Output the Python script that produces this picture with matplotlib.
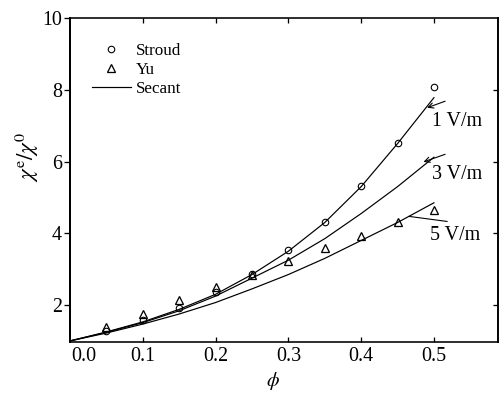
import numpy as np
import matplotlib
matplotlib.use('Agg')
import matplotlib.pyplot as plt
from matplotlib.transforms import ScaledTranslation

plt.rcParams['font.family'] = 'Liberation Serif'
plt.rcParams['mathtext.fontset'] = 'stix'

# secant curves (one per field strength)
phi_curve = [0.0, 0.05, 0.1, 0.15, 0.2, 0.25, 0.3, 0.35, 0.4, 0.45, 0.5]
secant_1 = [1.0, 1.25, 1.53, 1.88, 2.3, 2.85, 3.5, 4.3, 5.3, 6.5, 7.78]
secant_3 = [1.0, 1.24, 1.51, 1.84, 2.25, 2.75, 3.25, 3.85, 4.55, 5.3, 6.12]
secant_5 = [1.0, 1.22, 1.47, 1.75, 2.07, 2.45, 2.85, 3.3, 3.8, 4.3, 4.85]

# measured points
phi_pts = [0.05, 0.1, 0.15, 0.2, 0.25, 0.3, 0.35, 0.4, 0.45, 0.5]
stroud = [1.28, 1.58, 1.92, 2.35, 2.86, 3.53, 4.31, 5.31, 6.53, 8.08]
yu = [1.39, 1.75, 2.14, 2.5, 2.85, 3.22, 3.58, 3.92, 4.31, 4.64]

labels = ['1 V/m', '3 V/m', '5 V/m']

fig = plt.figure(figsize=(7, 5.5), dpi=72)
ax = fig.add_axes([70 / 504, 54 / 396, 428 / 504, 324 / 396])

ax.plot(phi_pts, stroud, 'o', mfc='none', mec='black', ms=6.5, mew=1.1, label='Stroud')
ax.plot(phi_pts, yu, '^', mfc='none', mec='black', ms=7.5, mew=1.3, label='Yu')
ax.plot(phi_curve, secant_1, '-', color='black', lw=1.2, label='Secant')
ax.plot(phi_curve, secant_3, '-', color='black', lw=1.2)
ax.plot(phi_curve, secant_5, '-', color='black', lw=1.2)

# field labels with leader lines
ax.text(0.498, 7.12, labels[0], fontsize=20, ha='left', va='center')
ax.annotate('', xy=(0.488, 7.48), xytext=(0.518, 7.7),
            arrowprops=dict(arrowstyle='->', color='black', lw=1.1, mutation_scale=13))
ax.text(0.498, 5.65, labels[1], fontsize=20, ha='left', va='center')
ax.annotate('', xy=(0.483, 5.97), xytext=(0.518, 6.22),
            arrowprops=dict(arrowstyle='->', color='black', lw=1.1, mutation_scale=13))
ax.text(0.494, 3.95, labels[2], fontsize=20, ha='left', va='center')
ax.plot([0.466, 0.518], [4.47, 4.33], '-', color='black', lw=1.1)

ax.set_xlim(0, 0.588)
ax.set_ylim(0.97, 10)
ax.set_xticks([0.0, 0.1, 0.2, 0.3, 0.4, 0.5])
ax.set_xticklabels(['0.0', '0.1', '0.2', '0.3', '0.4', '0.5'])
ax.set_yticks([2, 4, 6, 8, 10])

for s in ax.spines.values():
    s.set_linewidth(1.6)
ax.spines['left'].set_linewidth(2)

ax.tick_params(axis='x', direction='in', top=True, length=5, width=1.3,
               labelsize=20, pad=5)
ax.tick_params(axis='y', direction='out', length=6, width=1.3, labelsize=20, pad=2)
ax.xaxis.get_ticklines()[0].set_visible(False)
ax.xaxis.get_ticklines()[1].set_visible(False)

# right side: inward ticks, no labels
right = ax.secondary_yaxis('right')
right.set_yticks([2, 4, 6, 8])
right.tick_params(direction='in', length=5, width=1.3, labelright=False)
right.spines['right'].set_linewidth(1.6)

# "0.0" sits a bit right of its tick in the original
fig.canvas.draw()
lab0 = ax.get_xticklabels()[0]
lab0.set_transform(lab0.get_transform() + ScaledTranslation(14 / 72, 0, fig.dpi_scale_trans))

ax.set_xlabel(r'$\phi$', fontsize=20)
ax.xaxis.set_label_coords(0.474, -0.085)
ax.set_ylabel(r'$\chi^{\rm e}/\chi^{0}$', fontsize=23)
ax.yaxis.set_label_coords(-0.068, 0.571)

ax.legend(loc='upper left', bbox_to_anchor=(0.035, 0.945), frameon=False,
          fontsize=17, handlelength=2.3, handletextpad=0.3, labelspacing=0.2,
          borderaxespad=0)

fig.savefig('out.png', dpi=72)
